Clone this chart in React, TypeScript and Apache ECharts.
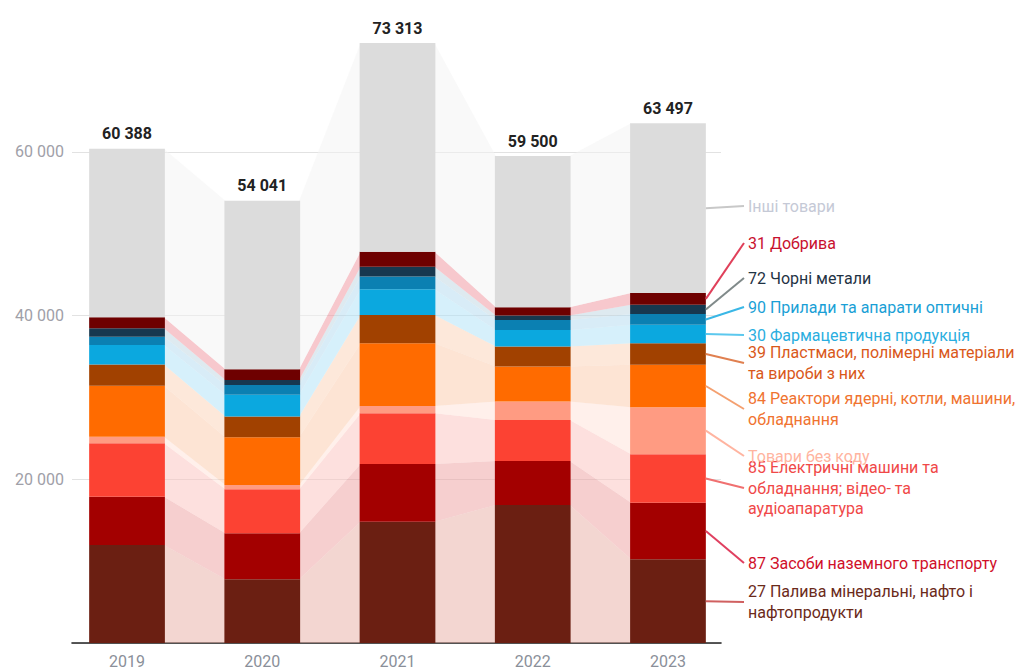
import React, { useEffect, useRef } from "react";
import * as echarts from "echarts";

const years = ["2019", "2020", "2021", "2022", "2023"];
const totals = [60388, 54041, 73313, 59500, 63497];

const fuel27 = [11980, 7790, 14830, 16870, 10230];
const vehicles87 = [5900, 5620, 7050, 5380, 6920];
const electrical85 = [6530, 5380, 6200, 5010, 5920];
const noCode = [800, 530, 890, 2240, 5750];
const reactors84 = [6230, 5830, 7660, 4280, 5170];
const plastics39 = [2600, 2520, 3460, 2440, 2650];
const pharma30 = [2380, 2650, 3140, 2040, 2240];
const optical90 = [1000, 1220, 1540, 1220, 1310];
const iron72 = [1030, 610, 1220, 530, 1140];
const fertilizers31 = [1350, 1310, 1830, 1030, 1430];
const otherGoods = [20588, 20581, 25493, 18460, 20737];

const seriesNames = [
  "27 Палива мінеральні, нафто і\nнафтопродукти",
  "87 Засоби наземного транспорту",
  "85 Електричні машини та\nобладнання; відео- та\nаудіоапаратура",
  "Товари без коду",
  "84 Реактори ядерні, котли, машини,\nобладнання",
  "39 Пластмаси, полімерні матеріали\nта вироби з них",
  "30 Фармацевтична продукція",
  "90 Прилади та апарати оптичні",
  "72 Чорні метали",
  "31 Добрива",
  "Інші товари",
];
const seriesValues = [
  fuel27, vehicles87, electrical85, noCode, reactors84, plastics39,
  pharma30, optical90, iron72, fertilizers31, otherGoods,
];

const barColors = ["#6b1f12", "#a30000", "#fc4233", "#ff9b82", "#ff6b00", "#a14100", "#0ba8df", "#0b80b2", "#17384f", "#6e0000", "#dcdcdc"];
const ribbonColors = [
  "rgba(231,173,163,0.5)", "rgba(237,159,159,0.5)", "rgba(251,193,189,0.5)", "rgba(255,225,215,0.5)",
  "rgba(251,201,169,0.5)", "rgba(251,209,181,0.5)", "rgba(173,225,247,0.5)", "rgba(177,217,239,0.5)",
  "rgba(189,213,225,0.5)", "rgba(239,145,155,0.5)", "rgba(244,244,244,0.5)",
];
const textColors = ["#6b2a1a", "#d0102a", "#f04848", "#ffb4a0", "#f07330", "#d9581a", "#2aaee0", "#1a9fd6", "#1f3344", "#c8102e", "#c5c9d6"];
const lineColors = ["#d06060", "#e04060", "#f07070", "#ffb4a0", "#f4a070", "#e08050", "#5cc8ee", "#3ab7e6", "#808a8a", "#e0405a", "#c8c8c8"];
const labelYs = [602, 563, 488, 456, 409, 363, 335, 307, 278, 243, 206];

const BAR_FRAC = 0.56;
const Y_MAX = 78570;
const FONT = "Roboto, 'Noto Sans', sans-serif";

const fmt = (v: number) => String(Math.round(v)).replace(/\B(?=(\d{3})+(?!\d))/g, " ");

export default function App() {
  const ref = useRef<HTMLDivElement>(null);
  useEffect(() => {
    if (!ref.current) return;
    const chart = echarts.init(ref.current, undefined, { renderer: "svg" });

    const lows: number[][] = [];
    const highs: number[][] = [];
    const acc = years.map(() => 0);
    seriesValues.forEach((vals, k) => {
      lows[k] = acc.slice();
      vals.forEach((v, i) => (acc[i] += v));
      highs[k] = acc.slice();
    });

    const ribbonSeries = seriesValues.map((_, k) => ({
      type: "custom",
      xAxisIndex: 1,
      yAxisIndex: 1,
      silent: true,
      z: 1,
      encode: { x: [0, 3], y: [1, 2, 4, 5] },
      data: years.slice(0, -1).map((_, i) => [i, lows[k][i], highs[k][i], i + 1, lows[k][i + 1], highs[k][i + 1]]),
      renderItem: (params: any, api: any) => {
        const bw = api.size([1, 0])[0];
        const hw = (bw * BAR_FRAC) / 2 - 1;
        const a = api.coord([api.value(0), api.value(1)]);
        const b = api.coord([api.value(0), api.value(2)]);
        const c = api.coord([api.value(3), api.value(5)]);
        const d = api.coord([api.value(3), api.value(4)]);
        return {
          type: "polygon",
          shape: { points: [[a[0] + hw, a[1]], [b[0] + hw, b[1]], [c[0] - hw, c[1]], [d[0] - hw, d[1]]] },
          style: { fill: ribbonColors[k] },
        };
      },
    }));

    const barSeries = seriesValues.map((vals, k) => ({
      type: "bar",
      name: seriesNames[k],
      xAxisIndex: 1,
      yAxisIndex: 1,
      stack: "total",
      barCategoryGap: "44%",
      z: 3,
      data: vals,
      itemStyle: { color: barColors[k] },
      label:
        k === seriesValues.length - 1
          ? {
              show: true,
              position: "top",
              distance: 7,
              formatter: (p: any) => fmt(totals[p.dataIndex]),
              fontFamily: FONT,
              fontWeight: "bold",
              fontSize: 16,
              color: "#222",
            }
          : { show: false },
    }));

    chart.setOption({
      animation: false,
      backgroundColor: "#fff",
      grid: [
        { left: 72, right: 309, top: 0, bottom: 28 },
        { left: 59.4, right: 294.4, top: 0, bottom: 28 },
      ],
      xAxis: [
        {
          type: "category",
          gridIndex: 0,
          data: years,
          axisLine: { show: true, lineStyle: { color: "#222", width: 1.6 } },
          axisTick: { show: false },
          axisLabel: { show: false },
          splitLine: { show: false },
        },
        {
          type: "category",
          gridIndex: 1,
          data: years,
          axisLine: { show: false },
          axisTick: { show: false },
          axisLabel: { show: true, margin: 10, fontSize: 16, color: "#8a8f99", fontFamily: FONT },
        },
      ],
      yAxis: [
        {
          type: "value",
          min: 0,
          max: Y_MAX,
          interval: 20000,
          gridIndex: 0,
          axisLine: { show: false },
          axisTick: { show: false },
          splitLine: { show: true, showMaxLine: false, lineStyle: { color: "#e2e2e2", width: 1 } },
          axisLabel: {
            margin: 8,
            fontSize: 16,
            color: "#a0a0a8",
            fontFamily: FONT,
            showMaxLabel: false,
            formatter: (v: number) => (v === 0 || v > 70000 ? "" : fmt(v)),
          },
        },
        { type: "value", min: 0, max: Y_MAX, interval: 20000, gridIndex: 1, show: false, splitLine: { show: false } },
      ],
      series: [...ribbonSeries, ...barSeries],
    });

    const last = years.length - 1;
    const p0 = chart.convertToPixel({ xAxisIndex: 1, yAxisIndex: 1 } as any, [0, 0]) as number[];
    const p1 = chart.convertToPixel({ xAxisIndex: 1, yAxisIndex: 1 } as any, [1, 0]) as number[];
    const halfBar = ((p1[0] - p0[0]) * BAR_FRAC) / 2;
    const labelX = 748;
    const elements: any[] = [];
    seriesValues.forEach((_, k) => {
      const mid = (lows[k][last] + highs[k][last]) / 2;
      const pt = chart.convertToPixel({ xAxisIndex: 1, yAxisIndex: 1 } as any, [last, mid]) as number[];
      const x0 = pt[0] + halfBar;
      elements.push({
        type: "line",
        silent: true,
        z: 10,
        shape: { x1: x0, y1: pt[1], x2: labelX - 4, y2: labelYs[k] },
        style: { stroke: lineColors[k], lineWidth: 2 },
      });
      elements.push({
        type: "text",
        silent: true,
        z: 11,
        x: labelX,
        y: labelYs[k],
        style: {
          text: seriesNames[k],
          fill: textColors[k],
          fontSize: 16,
          fontFamily: FONT,
          lineHeight: 20.5,
          align: "left",
          verticalAlign: "middle",
        },
      });
    });
    chart.setOption({ graphic: { elements } });

    return () => chart.dispose();
  }, []);
  return <div ref={ref} style={{ position: "fixed", left: 0, top: 0, width: 1030, height: 671 }} />;
}
